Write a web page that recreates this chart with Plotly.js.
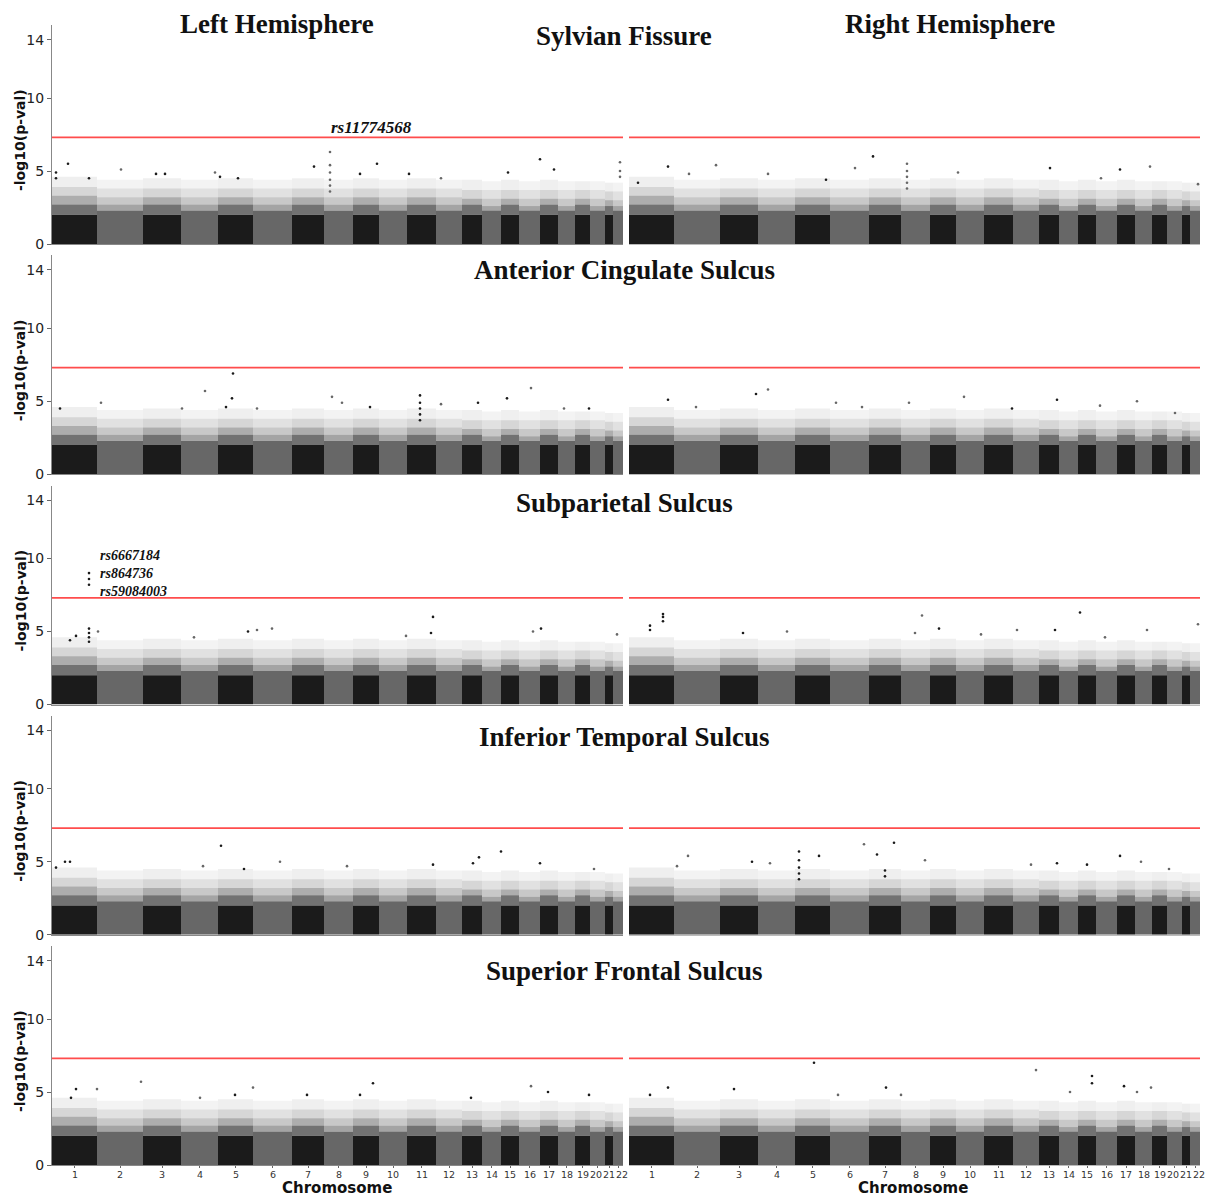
<!DOCTYPE html>
<html>
<head>
<meta charset="utf-8">
<script src="https://cdn.plot.ly/plotly-3.0.1.min.js"></script>
<style>html,body{margin:0;padding:0;background:#fff;}#chart{width:1209px;height:1198px;}</style>
</head>
<body>
<div id="chart"></div>
<script>
// ---- DATA ----
const chromLabels = ['1','2','3','4','5','6','7','8','9','10','11','12','13','14','15','16','17','18','19','20','21','22'];
// relative chromosome widths on the genome axis
const chromWidths = [45,46,38,37,35,39,32,29,26,28,29,26,20,19,18,21,18,17,15,15,8,10];
// top of the solid block and of the successively sparser speckle zones (-log10 p)
const blockTop  = [2.0,2.3,2.0,2.3,2.0,2.3,2.0,2.3,2.0,2.3,2.0,2.3,2.0,2.3,2.0,2.3,2.0,2.3,2.0,2.3,2.0,2.3];
const zone1Top  = [2.7,2.7,2.7,2.7,2.7,2.7,2.7,2.7,2.7,2.7,2.7,2.7,2.7,2.6,2.7,2.6,2.7,2.6,2.7,2.6,2.6,2.6];
const zone2Top  = [3.3,3.2,3.2,3.2,3.2,3.2,3.2,3.2,3.2,3.2,3.2,3.2,3.1,3.1,3.1,3.1,3.1,3.1,3.1,3.1,3.0,3.0];
const zone3Top  = [3.9,3.8,3.8,3.8,3.8,3.8,3.8,3.8,3.8,3.8,3.8,3.8,3.7,3.7,3.7,3.7,3.7,3.7,3.7,3.7,3.6,3.6];
const zone4Top  = [4.6,4.4,4.5,4.4,4.5,4.4,4.5,4.4,4.5,4.4,4.5,4.4,4.4,4.3,4.4,4.3,4.4,4.3,4.3,4.3,4.2,4.2];
const threshold = 7.3;

const panelTitles = ['Sylvian Fissure','Anterior Cingulate Sulcus','Subparietal Sulcus','Inferior Temporal Sulcus','Superior Frontal Sulcus'];
const hemisphereTitles = ['Left Hemisphere','Right Hemisphere'];

// notable points: position along genome axis, -log10(p)
const sfL_pos = [4,4,16,37,69,104,113,163,168,186,262,278,278,278,278,278,278,308,325,357,389,456,488,502,568,568,568];
const sfL_val = [4.9,4.5,5.5,4.5,5.1,4.8,4.8,4.9,4.6,4.5,5.3,6.3,5.4,4.9,4.4,4.0,3.6,4.8,5.5,4.8,4.5,4.9,5.8,5.1,5.6,5.0,4.6];
const sfR_pos = [39,87,244,278,278,278,278,278,226,421,521,491,329,139,569,9,60,472,197];
const sfR_val = [5.3,5.4,6.0,5.5,5.0,4.6,4.2,3.8,5.2,5.2,5.3,5.1,4.9,4.8,4.1,4.2,4.8,4.5,4.4];
const acsL_pos = [181,153,180,479,368,368,368,368,368,455,280,49,426,130,174,205,290,318,389,512,537,8];
const acsL_val = [6.9,5.7,5.2,5.9,5.4,4.9,4.5,4.1,3.7,5.2,5.3,4.9,4.9,4.5,4.6,4.5,4.9,4.6,4.8,4.5,4.5,4.5];
const acsR_pos = [139,127,39,335,428,508,207,280,67,471,383,546,233];
const acsR_val = [5.8,5.5,5.1,5.3,5.1,5.0,4.9,4.9,4.6,4.7,4.5,4.2,4.6];
const spsL_pos = [37,37,37,37,37,37,37,381,46,24,196,220,205,489,481,565,379,354,142,18];
const spsL_val = [9.0,8.6,8.2,5.2,4.9,4.6,4.3,6.0,5.0,4.7,5.0,5.2,5.1,5.2,5.0,4.8,4.9,4.7,4.6,4.4];
const spsR_pos = [34,34,34,21,21,293,451,569,310,388,426,518,114,158,286,352,476];
const spsR_val = [6.2,6.0,5.7,5.4,5.1,6.1,6.3,5.5,5.2,5.1,5.1,5.1,4.9,5.0,4.9,4.8,4.6];
const itsL_pos = [169,449,427,228,13,18,381,151,295,488,4,192,421,542];
const itsL_val = [6.1,5.7,5.3,5.0,5.0,5.0,4.8,4.7,4.7,4.9,4.6,4.5,4.9,4.5];
const itsR_pos = [265,235,248,170,170,170,170,170,190,59,491,296,512,123,141,402,428,458,540,48,256,256];
const itsR_val = [6.3,6.2,5.5,5.7,5.1,4.6,4.2,3.8,5.4,5.4,5.4,5.1,5.0,5.0,4.9,4.8,4.9,4.8,4.5,4.7,4.4,4.0];
const sfsL_pos = [89,321,479,201,24,45,19,496,183,255,308,537,419,148];
const sfsL_val = [5.7,5.6,5.4,5.3,5.2,5.2,4.6,5.0,4.8,4.8,4.8,4.8,4.6,4.6];
const sfsR_pos = [185,407,463,463,39,105,257,495,522,508,209,272,441,21];
const sfsR_val = [7.0,6.5,6.1,5.6,5.3,5.2,5.3,5.4,5.3,5.0,4.8,4.8,5.0,4.8];

// SNP labels: panel index, position, centre value, lines of text
const snpLabelPanel = [0,4];
const snpLabelPos = [278,47];
const snpLabelVal = [8.0,8.95];
const snpLabelText = [['rs11774568'],['rs6667184','rs864736','rs59084003']];

// ---- BUILD ----
const panelPos = [sfL_pos,sfR_pos,acsL_pos,acsR_pos,spsL_pos,spsR_pos,itsL_pos,itsR_pos,sfsL_pos,sfsR_pos];
const panelVal = [sfL_val,sfR_val,acsL_val,acsR_val,spsL_val,spsR_val,itsL_val,itsR_val,sfsL_val,sfsR_val];

const starts = []; let acc = 0;
chromWidths.forEach(w => { starts.push(acc); acc += w; });
const total = acc;
const centers = chromWidths.map((w,i) => starts[i] + w/2);
// small horizontal nudges of crowded tick labels (style only)
const labelNudge = chromLabels.map((l,i) => i===19 ? -1.5 : (i===21 ? 3.5 : 0));
const DARK = '#1b1b1b', GRAY = '#676767';
const solidCols = chromWidths.map((w,i) => i%2===0 ? DARK : GRAY);
const rgbaCols = (a,b) => chromWidths.map((w,i) => i%2===0 ? `rgba(27,27,27,${a})` : `rgba(103,103,103,${b})`);
function chromOf(p){ for(let i=chromWidths.length-1;i>=0;i--){ if(p>=starts[i]) return i; } return 0; }

const W = 1209, H = 1198;
const xDom = [[52/W, 623/W],[629/W, 1200/W]];
const rowBottom = r => 244 + 230.25*r;
const unitPx = 14.6, yMax = 15;

const zones = [[blockTop,zone1Top,0.62,0.6],[zone1Top,zone2Top,0.36,0.36],[zone2Top,zone3Top,0.18,0.2],[zone3Top,zone4Top,0.07,0.08]];

const traces = [];
const layout = {
  width: W, height: H,
  margin: {l:0,r:0,t:0,b:0},
  paper_bgcolor: '#fff', plot_bgcolor: '#fff',
  showlegend: false, barmode: 'overlay',
  font: {family: 'DejaVu Sans', color: '#222'},
  annotations: [], shapes: []
};
const titleY = [36,270,503,737,971];

for (let r=0;r<5;r++){
  for (let c=0;c<2;c++){
    const p = r*2+c, n = p+1;
    const xa = n===1 ? 'x' : 'x'+n, ya = n===1 ? 'y' : 'y'+n;
    const B = rowBottom(r), T = B - yMax*unitPx;
    layout['xaxis'+(n===1?'':n)] = {
      domain: xDom[c], range: [0,total], anchor: ya,
      showgrid: false, zeroline: false, showline: true,
      linecolor: c===0 ? '#888' : '#bbb', linewidth: 1,
      tickvals: centers, showticklabels: false, ticks: r===4 ? 'outside' : '',
      ticklen: 2, tickcolor: '#666',
      fixedrange: true
    };
    layout['yaxis'+(n===1?'':n)] = {
      domain: [1 - B/H, 1 - T/H], range: [0,yMax], anchor: xa,
      showgrid: false, zeroline: false,
      showline: c===0, linecolor: '#888', linewidth: 1,
      tickvals: [0,5,10,14], ticktext: ['0','5','10','14'],
      showticklabels: c===0, ticks: c===0 ? 'outside' : '', ticklen: 4, tickcolor: '#666',
      tickfont: {size: 14, color: '#222', family: 'DejaVu Sans'},
      fixedrange: true
    };
    // solid block
    traces.push({type:'bar', x:centers, y:blockTop, width:chromWidths, xaxis:xa, yaxis:ya,
      marker:{color:solidCols, line:{width:0}}, hoverinfo:'skip'});
    // speckle zones, fading upward
    zones.forEach(([lo,hi,a,b]) => traces.push({type:'bar', x:centers, y:hi.map((v,i)=>v-lo[i]), base:lo,
      width:chromWidths, xaxis:xa, yaxis:ya, marker:{color:rgbaCols(a,b), line:{width:0}}, hoverinfo:'skip'}));
    // notable points
    traces.push({type:'scatter', mode:'markers', x:panelPos[p], y:panelVal[p], xaxis:xa, yaxis:ya,
      marker:{size:2.6, color:panelPos[p].map(v => chromOf(v)%2===0 ? DARK : GRAY)}, hoverinfo:'skip'});
    // significance line
    layout.shapes.push({type:'line', xref: xa+' domain', yref: ya, x0:0, x1:1, y0:threshold, y1:threshold,
      line:{color:'rgba(255,45,45,0.85)', width:1.8}});
    if (c===0){
      layout.annotations.push({xref:'paper', yref:'paper', x:20/W, y:1-(B-104)/H, text:'<b>-log10(p-val)</b>',
        textangle:-90, showarrow:false, font:{family:'DejaVu Sans', size:14, color:'#111'}, xanchor:'center', yanchor:'middle'});
    }
    // chromosome tick labels on the bottom row
    if (r===4){
      chromLabels.forEach((lab,i) => layout.annotations.push({xref:xa, yref:'paper', x:centers[i]+labelNudge[i], y:1-1168/H,
        text:lab, showarrow:false, borderpad:0, xanchor:'center', yanchor:'top',
        font:{family:'DejaVu Sans', size:9.5, color:'#333'}}));
    }
  }
  layout.annotations.push({xref:'paper', yref:'paper', x:624/W, y:1-titleY[r]/H, text:'<b>'+panelTitles[r]+'</b>',
    showarrow:false, font:{family:'Liberation Serif', size:27, color:'#111'}, xanchor:'center', yanchor:'middle'});
}
layout.annotations.push({xref:'paper', yref:'paper', x:277/W, y:1-24/H, text:'<b>'+hemisphereTitles[0]+'</b>',
  showarrow:false, font:{family:'Liberation Serif', size:27, color:'#111'}, xanchor:'center', yanchor:'middle'});
layout.annotations.push({xref:'paper', yref:'paper', x:950/W, y:1-24/H, text:'<b>'+hemisphereTitles[1]+'</b>',
  showarrow:false, font:{family:'Liberation Serif', size:27, color:'#111'}, xanchor:'center', yanchor:'middle'});
[337,913].forEach(cx => layout.annotations.push({xref:'paper', yref:'paper', x:cx/W, y:0, text:'<b>Chromosome</b>',
  showarrow:false, borderpad:0, font:{family:'DejaVu Sans', size:15, color:'#111'}, xanchor:'center', yanchor:'bottom'}));
snpLabelText.forEach((lines,i) => {
  const n = snpLabelPanel[i]+1;
  layout.annotations.push({xref: n===1?'x':'x'+n, yref: n===1?'y':'y'+n, x:snpLabelPos[i], y:snpLabelVal[i],
    text: lines.map(t => '<b><i>'+t+'</i></b>').join('<br>'), showarrow:false, xanchor:'left', yanchor:'middle', align:'left',
    borderpad:0, font:{family:'Liberation Serif', size: lines.length>1 ? 14 : 17, color:'#111'}});
});

Plotly.newPlot('chart', traces, layout, {staticPlot:true, displayModeBar:false});
</script>
</body>
</html>
